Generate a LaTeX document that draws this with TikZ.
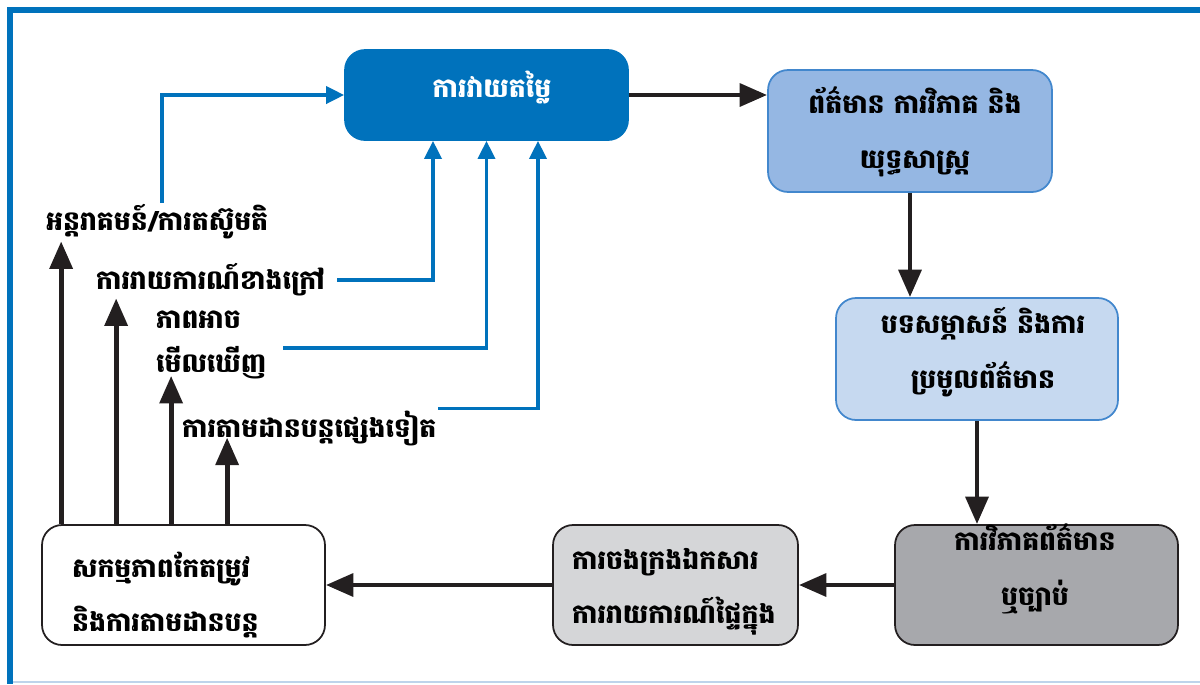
\documentclass[tikz,border=0pt]{standalone}
\usepackage{fontspec}
\newfontfamily\khmer[Script=Khmer]{Battambang}
\usetikzlibrary{arrows.meta}
\definecolor{boxblue}{RGB}{0,114,188}
\definecolor{lineblue}{RGB}{66,135,205}
\definecolor{midblue}{RGB}{149,183,227}
\definecolor{paleblue}{RGB}{198,217,240}
\definecolor{darkgrey}{RGB}{167,168,172}
\definecolor{lightgrey}{RGB}{213,214,216}
\definecolor{arrowblack}{RGB}{35,31,32}
\definecolor{edgeblue}{RGB}{190,212,235}

\begin{document}
\begin{tikzpicture}[x=0.02cm, y=-0.02cm,
  box/.style={draw, rounded corners=0.4cm, line width=1pt, inner sep=0pt},
  txt/.style={font=\khmer\bfseries\fontsize{15.2}{31}\selectfont, inner sep=1pt},
  flow/.style={line width=2.8pt, color=arrowblack, -{Triangle[length=0.55cm,width=0.45cm]}},
  feed/.style={line width=2.1pt, color=boxblue, -{Triangle[length=0.36cm,width=0.34cm]}}]
\useasboundingbox (0,0) rectangle (1200,684);
% frame
\draw [line width=0.12cm, color=boxblue] (7,10) -- (1200,10);
\draw [line width=0.12cm, color=boxblue] (10,7) -- (10,684);
\draw [line width=1pt, color=edgeblue] (13,682) -- (1200,682);

% boxes
\node [box, draw=boxblue, fill=boxblue, minimum width=5.66cm, minimum height=1.8cm] (assess) at (486.5,95) {};
\node [box, draw=lineblue, fill=midblue, minimum width=5.68cm, minimum height=2.44cm] (info) at (910,131) {};
\node [box, draw=lineblue, fill=paleblue, minimum width=5.64cm, minimum height=2.44cm] (talk) at (977,359) {};
\node [box, draw=arrowblack, fill=darkgrey, minimum width=5.66cm, minimum height=2.4cm] (check) at (1036.5,585) {};
\node [box, draw=arrowblack, fill=lightgrey, minimum width=4.9cm, minimum height=2.4cm] (record) at (675.5,585) {};
\node [box, draw=arrowblack, fill=white, minimum width=5.66cm, minimum height=2.4cm] (fix) at (183.5,585) {};

% box texts
\node [txt, text=white] (assesstxt) at (492,88) {ការវាយតម្លៃ};
\node [txt, align=center] (infotxt) at (915,132) {ព័ត៌មាន ការវិភាគ និង\\យុទ្ធសាស្ត្រ};
\node [txt, align=center] (talktxt) at (983,352) {បទសម្ភាសន៍ និងការ\\ប្រមូលព័ត៌មាន};
\node [txt, align=center] (checktxt) at (1035,569) {ការវិភាគព័ត៌មាន\\ឬច្បាប់};
\node [txt, align=left, anchor=west] (recordtxt) at (570,592) {ការចងក្រងឯកសារ\\ការរាយការណ៍ផ្ទៃក្នុង};
\node [txt, align=left, anchor=west] (fixtxt) at (70,595) {សកម្មភាពកែតម្រូវ\\និងការតាមដានបន្ត};

% side labels
\node [txt, anchor=west] (act) at (44,222) {អន្តរាគមន៍/ការតស៊ូមតិ};
\node [txt, anchor=west] (report) at (94,280) {ការរាយការណ៍ខាងក្រៅ};
\node [txt, align=left, anchor=west] (seen) at (154,345) {ភាពអាច\\[-0.22cm]មើលឃើញ};
\node [txt, anchor=west] (follow) at (180,428) {ការតាមដានបន្តផ្សេងទៀត};

% main flow
\draw [flow] (assess.east) -- (assess.east -| info.west);
\draw [flow] (info.south) -- (info.south |- talk.north);
\draw [flow] (talk.south) -- (talk.south |- check.north);
\draw [flow] (check.west) -- (record.east);
\draw [flow] (record.west) -- (fix.east);

% upward arrows
\draw [flow] ([xshift=0.4cm]fix.north west) -- ([xshift=0.4cm]fix.north west |- act.south);
\draw [flow] ([xshift=1.5cm]fix.north west) -- ([xshift=1.5cm]fix.north west |- report.south);
\draw [flow] ([xshift=2.6cm]fix.north west) -- ([xshift=2.6cm,yshift=0.1cm]fix.north west |- seen.south);
\draw [flow] ([xshift=3.72cm]fix.north west) -- ([xshift=3.72cm,yshift=0.2cm]fix.north west |- follow.south);

% feedback
\draw [feed] ([xshift=2.36cm]act.north west) |- (assess.west);
\draw [feed] ([xshift=0.2cm]report.east) -| ([xshift=-1.07cm]assess.south);
\draw [feed] ([xshift=0.3cm,yshift=-0.06cm]seen.east) -| (assess.south);
\draw [feed] (follow.north east) -| ([xshift=1.03cm]assess.south);

\end{tikzpicture}
\end{document}
